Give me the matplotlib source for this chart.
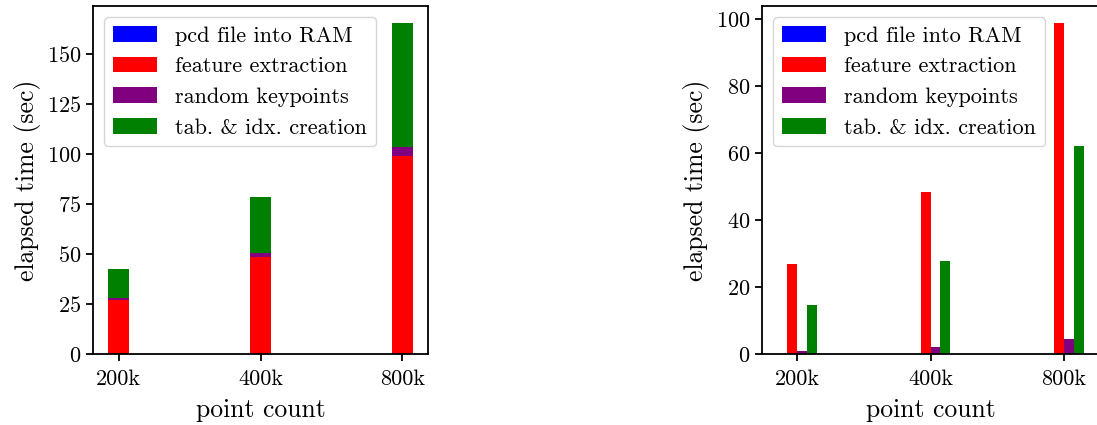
import matplotlib
matplotlib.use("Agg")
import matplotlib.pyplot as plt
import numpy as np

plt.rcParams['font.family'] = 'serif'
plt.rcParams['font.serif'] = ['cmr10']
plt.rcParams['mathtext.fontset'] = 'cm'
plt.rcParams['axes.formatter.use_mathtext'] = True
plt.rcParams['axes.unicode_minus'] = False
plt.rcParams['font.size'] = 16
plt.rcParams['axes.linewidth'] = 1.3
plt.rcParams['xtick.major.width'] = 1.3
plt.rcParams['ytick.major.width'] = 1.3
plt.rcParams['xtick.major.size'] = 5
plt.rcParams['ytick.major.size'] = 5
plt.rcParams['xtick.major.pad'] = 6

categories = ['200k', '400k', '800k']
series_names = ['pcd file into RAM', 'feature extraction', 'random keypoints', 'tab. & idx. creation']
series_colors = ['blue', 'red', 'purple', 'green']
pcd_load = [0.1, 0.1, 0.1]
feature_extraction = [26.8, 48.3, 99.0]
random_keypoints = [1.0, 2.1, 4.5]
table_index = [14.6, 27.9, 62.0]

values = [pcd_load, feature_extraction, random_keypoints, table_index]

fig = plt.figure(figsize=(10.97, 4.25), dpi=100)
ax1 = fig.add_axes([93/1097, 71/425, 335/1097, 348/425])
ax2 = fig.add_axes([762/1097, 71/425, 337/1097, 348/425])

x = np.arange(len(categories))

# stacked
bottom = np.zeros(len(categories))
for vals, name, col in zip(values, series_names, series_colors):
    ax1.bar(x, vals, width=0.15, bottom=bottom, color=col, label=name)
    bottom = bottom + np.array(vals)

# grouped
w = 0.075
offsets = [-1.5, -0.5, 0.5, 1.5]
for vals, name, col, off in zip(values, series_names, series_colors, offsets):
    ax2.bar(x + off * w, vals, width=w, color=col, label=name)

for ax in (ax1, ax2):
    ax.set_xticks(x)
    ax.set_xticklabels(categories)
    ax.set_xlabel('point count', fontsize=18.5, labelpad=7)
    ax.set_ylabel('elapsed time (sec)', fontsize=18.5)
    ax.legend(loc='upper left', fontsize=16)

ax1.set_yticks([0, 25, 50, 75, 100, 125, 150])
ax2.set_yticks([0, 20, 40, 60, 80, 100])

fig.savefig('out.png', dpi=100)
